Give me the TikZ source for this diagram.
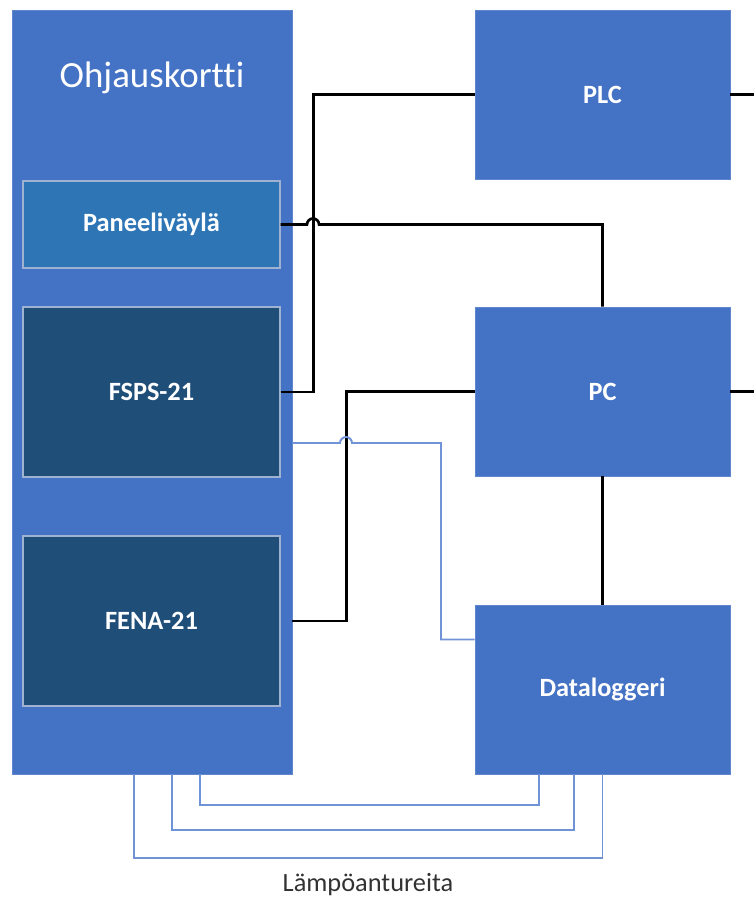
\documentclass[tikz,border=0pt]{standalone}
\usepackage{fontspec}
\setmainfont[Ligatures=CommonOff]{Carlito}
\usetikzlibrary{positioning,calc}
\definecolor{cardblue}{RGB}{68,114,196}
\definecolor{busblue}{RGB}{46,117,182}
\definecolor{modblue}{RGB}{31,78,121}
\definecolor{sensorblue}{RGB}{111,147,214}
\definecolor{edgegray}{RGB}{160,178,210}
\definecolor{labelgray}{RGB}{50,50,50}

\tikzset{
  block/.style={rectangle,fill=cardblue,draw=cardblue!85!white,line width=0.4pt,
    text=white,font=\fontsize{15}{18}\selectfont\bfseries,
    minimum width=5.1cm,minimum height=3.38cm,inner sep=0pt},
  module/.style={block,fill=modblue,draw=edgegray,line width=0.8pt,minimum width=5.14cm},
  wire/.style={black,line width=1.5pt},
  sensor/.style={sensorblue,line width=1.1pt}
}

\begin{document}
\begin{tikzpicture}[x=0.02cm,y=-0.02cm]
  \useasboundingbox (0,0) rectangle (754,899);
  % control card and its modules
  \node[block,minimum width=5.6cm,minimum height=15.28cm] (ohjaus) at (152,392) {};
  \node[text=white,font=\fontsize{21}{25}\selectfont] (ohjaustxt) at (152,78) {Ohjauskortti};
  \node[module,fill=busblue,minimum height=1.74cm] (paneeli) at (151.5,224.5) {Paneeliväylä};
  \node[module,minimum height=3.4cm] (fsps) at (151.5,392) {FSPS-21};
  \node[module,minimum height=3.4cm] (fena) at (151.5,621) {FENA-21};
  % right column
  \node[block] (plc) at (602.5,94.5) {PLC};
  \node[block] (pc) at (602.5,391.5) {PC};
  \node[block] (logger) at (602.5,689.5) {Dataloggeri};
  \coordinate (plcout) at (754,94.5);
  \coordinate (pcout) at (754,391.5);
  \node[text=labelgray,font=\fontsize{15}{18}\selectfont] (lampo) at (368,885) {Lämpöantureita};

  % black connections
  \draw[wire] (fsps.east) -- ++(33,0) |- (plc.west);
  \draw[wire] (paneeli.east) -- (307,224.5) arc[start angle=180,end angle=0,radius=0.12cm] -| (pc.north);
  \draw[wire] (ohjaus.east |- fena.east) -- ++(54,0) |- (pc.west);
  \draw[wire] (pc.south) -- (logger.north);
  \draw[wire] (plc.east) -- (plcout);
  \draw[wire] (pc.east) -- (pcout);

  % sensor lines
  \draw[sensor] ($(ohjaus.east)+(0,51)$) -- (340,443) arc[start angle=180,end angle=0,radius=0.12cm]
    -- (441,443) |- ($(logger.west)+(0,-50)$);
  \foreach \a/\b/\d in {-18/0/84, 20/-28.5/56, 48/-63.5/31}
    \draw[sensor] ($(ohjaus.south)+(\a,0)$) -- ++(0,\d) -| ($(logger.south)+(\b,0)$);
\end{tikzpicture}
\end{document}
